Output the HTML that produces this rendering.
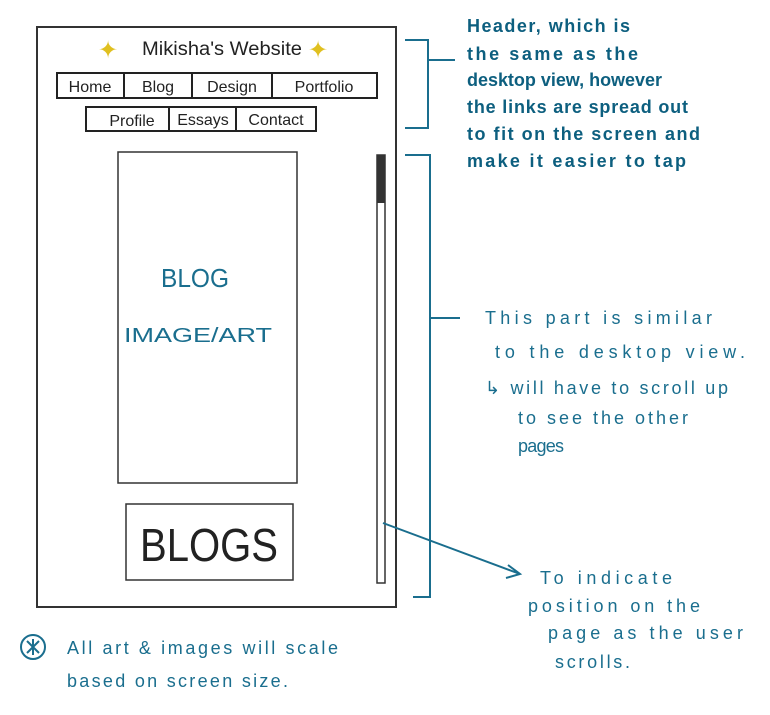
<!DOCTYPE html>
<html><head><style>
html,body{margin:0;padding:0;background:#fff;width:770px;height:715px;overflow:hidden}
svg text{font-family:"Liberation Sans",sans-serif}
</style></head><body>
<svg width="770" height="715" viewBox="0 0 770 715" xmlns="http://www.w3.org/2000/svg">
<rect x="37" y="27" width="359" height="580" fill="none" stroke="#333" stroke-width="2"/>
<text x="98" y="58" font-size="24" fill="#e0c020">✦</text>
<text x="222" y="55" font-size="19" fill="#222" text-anchor="middle" textLength="160" lengthAdjust="spacingAndGlyphs">Mikisha's  Website</text>
<text x="308" y="58" font-size="24" fill="#e0c020">✦</text>
<rect x="57" y="73" width="320" height="25" fill="none" stroke="#222" stroke-width="2"/>
<path d="M124 73V98M192 73V98M272 73V98" stroke="#222" stroke-width="2"/>
<g font-size="16" fill="#222" text-anchor="middle">
<text x="90" y="92">Home</text><text x="158" y="92">Blog</text><text x="232" y="92">Design</text><text x="324" y="92">Portfolio</text>
<text x="132" y="126">Profile</text><text x="203" y="125">Essays</text><text x="276" y="125">Contact</text>
</g>
<rect x="86" y="107" width="230" height="24" fill="none" stroke="#222" stroke-width="2"/>
<path d="M169 107V131M236 107V131" stroke="#222" stroke-width="2"/>
<rect x="118" y="152" width="179" height="331" fill="none" stroke="#333" stroke-width="1.5"/>
<text x="161" y="287" font-size="26" fill="#1a6e8e" textLength="68" lengthAdjust="spacingAndGlyphs">BLOG</text>
<text x="124" y="342" font-size="20" fill="#1a6e8e" textLength="148" lengthAdjust="spacingAndGlyphs">IMAGE/ART</text>
<rect x="126" y="504" width="167" height="76" fill="none" stroke="#333" stroke-width="1.5"/>
<text x="140" y="561" font-size="46" fill="#222" textLength="138" lengthAdjust="spacingAndGlyphs">BLOGS</text>
<rect x="377" y="155" width="8" height="428" fill="none" stroke="#333" stroke-width="1.5"/>
<rect x="377" y="155" width="8" height="48" fill="#333"/>
<g fill="none" stroke="#1a6e8e" stroke-width="2">
<path d="M405 40H428V128H405M428 60H455"/>
<path d="M405 155H430V597H413M430 318H460"/>
<path d="M383 523L520 574M508 565L520 574L506 578"/>
<circle cx="33" cy="647" r="12"/>
<path d="M27 641L39 653M39 641L27 653M33 639V655"/>
</g>
<g font-size="18" fill="#0d5f7f" font-weight="bold" lengthAdjust="spacingAndGlyphs">
<text x="467" y="32" textLength="163">Header, which is</text>
<text x="467" y="60" textLength="171">the same as the</text>
<text x="467" y="86" textLength="195">desktop view, however</text>
<text x="467" y="113" textLength="221">the links are spread out</text>
<text x="467" y="140" textLength="233">to fit on the screen and</text>
<text x="467" y="167" textLength="219">make it easier to tap</text>
</g>
<g font-size="18" fill="#1a6e8e">
<text x="485" y="324" textLength="227">This  part is similar</text>
<text x="495" y="358" textLength="250">to the desktop view.</text>
<text x="485" y="394" textLength="243">↳ will have to scroll up</text>
<text x="518" y="424" textLength="170">to see the other</text>
<text x="518" y="452" textLength="46">pages</text>
<text x="540" y="584" textLength="132">To indicate</text>
<text x="528" y="612" textLength="172">position on the</text>
<text x="548" y="639" textLength="195">page as the user</text>
<text x="555" y="668" textLength="75">scrolls.</text>
<text x="67" y="654" textLength="271">All art &amp; images  will scale</text>
<text x="67" y="687" textLength="221">based on screen size.</text>
</g>
</svg>
</body></html>
